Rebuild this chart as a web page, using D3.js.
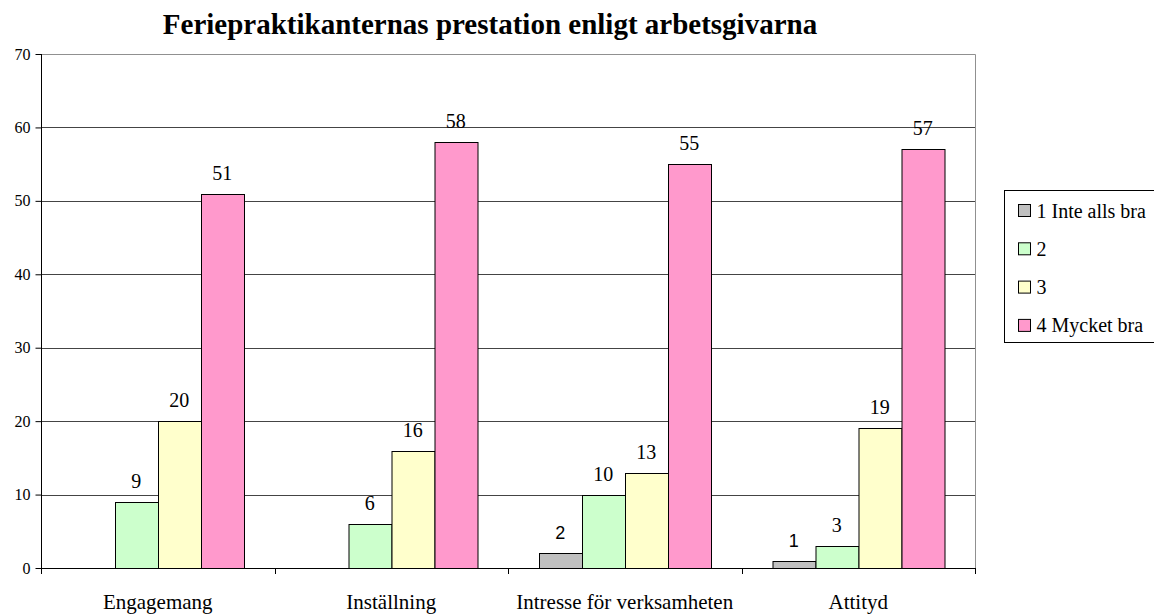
<!DOCTYPE html>
<html>
<head>
<meta charset="utf-8">
<script src="https://cdn.jsdelivr.net/npm/d3@7"></script>
<style>
  body { margin: 0; background: #fff; }
  svg { display: block; }
</style>
</head>
<body>
<div id="chart"></div>
<script>
// data
var categories = ["Engagemang", "Inställning", "Intresse för verksamheten", "Attityd"];
var seriesNames = ["1 Inte alls bra", "2", "3", "4 Mycket bra"];
var seriesColors = ["#c0c0c0", "#ccffcc", "#ffffcc", "#ff99cc"];
var inteAllsBra = [0, 0, 2, 1];
var betyg2 = [9, 6, 10, 3];
var betyg3 = [20, 16, 13, 19];
var mycketBra = [51, 58, 55, 57];
var yTicks = [0, 10, 20, 30, 40, 50, 60, 70];

var seriesValues = [inteAllsBra, betyg2, betyg3, mycketBra];

var W = 1154, H = 614;
var plot = {left: 41, right: 975, top: 54, bottom: 568};
var serif = "'Liberation Serif', 'Times New Roman', serif";
var sans = "'Liberation Sans', Arial, sans-serif";

var svg = d3.select("#chart")
  .append("svg")
  .attr("width", W)
  .attr("height", H);

// scales
var x0 = d3.scaleBand()
  .domain(categories)
  .range([plot.left, plot.right])
  .padding(0);

var x1 = d3.scaleBand()
  .domain(seriesNames)
  .range([0, x0.bandwidth()])
  .paddingInner(0)
  .paddingOuter(0.715);

var y = d3.scaleLinear()
  .domain([0, 70])
  .range([plot.bottom, plot.top]);

// title
svg.append("text")
  .attr("x", 490)
  .attr("y", 34)
  .attr("text-anchor", "middle")
  .style("font-family", serif)
  .style("font-weight", "bold")
  .style("font-size", "29px")
  .text("Feriepraktikanternas prestation enligt arbetsgivarna");

// gridlines
svg.selectAll(".grid")
  .data(yTicks.filter(d => d > 0 && d < 70))
  .enter()
  .append("line")
  .attr("class", "grid")
  .attr("x1", plot.left)
  .attr("x2", plot.right)
  .attr("y1", d => Math.round(y(d)) + 0.5)
  .attr("y2", d => Math.round(y(d)) + 0.5)
  .style("stroke", "#444")
  .style("stroke-width", 1);

// plot border (top and right)
svg.append("path")
  .attr("d", "M" + plot.left + "," + (plot.top + 0.5) + "H" + (plot.right + 0.5) + "V" + plot.bottom)
  .style("fill", "none")
  .style("stroke", "#909090")
  .style("stroke-width", 1);

// bars
var rows = [];
categories.forEach(function(c, ci) {
  seriesNames.forEach(function(s, si) {
    rows.push({cat: c, series: s, si: si, value: seriesValues[si][ci]});
  });
});

var groups = svg.selectAll(".group")
  .data(categories)
  .enter()
  .append("g")
  .attr("class", "group")
  .attr("transform", d => "translate(" + x0(d) + ",0)");

groups.selectAll("rect")
  .data(c => rows.filter(r => r.cat === c && r.value > 0))
  .enter()
  .append("rect")
  .attr("x", d => Math.round(x1(d.series)) + 0.5)
  .attr("y", d => Math.round(y(d.value)) + 0.5)
  .attr("width", x1.bandwidth())
  .attr("height", d => Math.round(y(0)) - Math.round(y(d.value)))
  .style("fill", d => seriesColors[d.si])
  .style("stroke", "#000")
  .style("stroke-width", 1);

// value labels
groups.selectAll(".val")
  .data(c => rows.filter(r => r.cat === c && r.value > 0))
  .enter()
  .append("text")
  .attr("class", "val")
  .attr("x", d => x1(d.series) + x1.bandwidth() / 2)
  .attr("y", d => y(d.value) - 14)
  .attr("text-anchor", "middle")
  .style("font-family", d => d.si === 0 ? sans : serif)
  .style("font-size", d => d.si === 0 ? "18px" : "20px")
  .text(d => d.value);

// y axis
var yAxis = svg.append("g")
  .attr("transform", "translate(" + (plot.left + 0.5) + ",0)")
  .call(d3.axisLeft(y).tickValues(yTicks).tickSize(6).tickPadding(5));
yAxis.select(".domain").attr("d", "M0," + plot.top + "V" + (plot.bottom + 6)).style("stroke", "#000");
yAxis.selectAll(".tick line").style("stroke", "#000");
yAxis.selectAll("text")
  .style("font-family", serif)
  .style("font-size", "16px")
  .attr("fill", "#000");

// x axis line + boundary ticks
var xBounds = categories.map(c => x0(c)).concat([plot.right]);
svg.append("line")
  .attr("x1", plot.left)
  .attr("x2", plot.right + 1)
  .attr("y1", plot.bottom + 0.5)
  .attr("y2", plot.bottom + 0.5)
  .style("stroke", "#000");
svg.selectAll(".xtick")
  .data(xBounds)
  .enter()
  .append("line")
  .attr("class", "xtick")
  .attr("x1", d => Math.round(d) + 0.5)
  .attr("x2", d => Math.round(d) + 0.5)
  .attr("y1", plot.bottom)
  .attr("y2", plot.bottom + 6)
  .style("stroke", "#000");

svg.selectAll(".catlabel")
  .data(categories)
  .enter()
  .append("text")
  .attr("class", "catlabel")
  .attr("x", d => x0(d) + x0.bandwidth() / 2)
  .attr("y", 609)
  .attr("text-anchor", "middle")
  .style("font-family", serif)
  .style("font-size", "21px")
  .text(d => d);

// legend (runs off the right edge like the original)
var legend = svg.append("g")
  .attr("transform", "translate(1004.5,190.5)");
legend.append("rect")
  .attr("width", 170)
  .attr("height", 152)
  .style("fill", "#fff")
  .style("stroke", "#000");

var items = legend.selectAll(".item")
  .data(seriesNames)
  .enter()
  .append("g")
  .attr("class", "item")
  .attr("transform", (d, i) => "translate(0," + (20 + i * 38.3) + ")");
items.append("rect")
  .attr("x", 14)
  .attr("y", -6)
  .attr("width", 12)
  .attr("height", 12)
  .style("fill", (d, i) => seriesColors[i])
  .style("stroke", "#000");
items.append("text")
  .attr("x", 32)
  .attr("y", 7)
  .style("font-family", serif)
  .style("font-size", "20px")
  .text(d => d);
</script>
</body>
</html>
